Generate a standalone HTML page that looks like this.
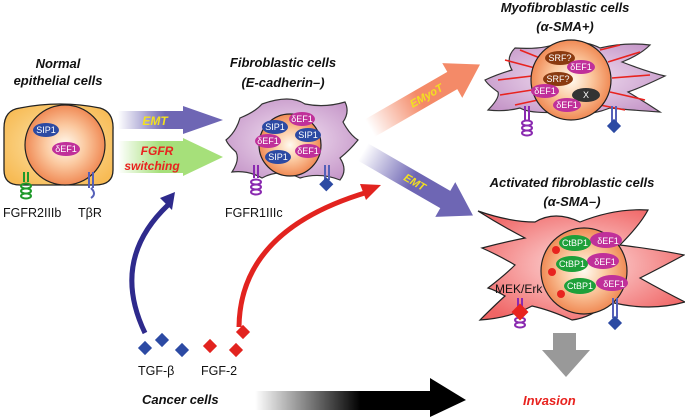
<!DOCTYPE html>
<html><head><meta charset="utf-8"><style>
html,body{margin:0;padding:0;background:#fff;}
svg{display:block;}
text{font-family:"Liberation Sans",sans-serif;}
.t{font-weight:bold;font-style:italic;font-size:13px;fill:#111;text-anchor:middle;}
.s{font-size:9px;fill:#fff;text-anchor:middle;}
.l{font-size:12.5px;fill:#111;}
</style></head><body>
<svg width="685" height="417" viewBox="0 0 685 417" xmlns="http://www.w3.org/2000/svg">
<defs>
<radialGradient id="nuc" cx="0.5" cy="0.5" r="0.5"><stop offset="0" stop-color="#fffaf0"/><stop offset="0.5" stop-color="#fbc9a0"/><stop offset="1" stop-color="#f08a55"/></radialGradient>
<radialGradient id="epi" cx="0.5" cy="0.5" r="0.6"><stop offset="0" stop-color="#fde7b0"/><stop offset="1" stop-color="#f7bb55"/></radialGradient>
<radialGradient id="pur" cx="0.5" cy="0.5" r="0.6"><stop offset="0" stop-color="#f3e3f3"/><stop offset="1" stop-color="#c596c8"/></radialGradient>
<radialGradient id="red" cx="0.5" cy="0.5" r="0.6"><stop offset="0" stop-color="#fde0e0"/><stop offset="1" stop-color="#f06565"/></radialGradient>
<linearGradient id="gP" x1="0" x2="1"><stop offset="0" stop-color="#fff"/><stop offset="0.45" stop-color="#6e66b4"/></linearGradient>
<linearGradient id="gG" x1="0" x2="1"><stop offset="0" stop-color="#fff"/><stop offset="0.4" stop-color="#a6e07a"/></linearGradient>
<linearGradient id="gO" x1="0" x2="1"><stop offset="0" stop-color="#fff"/><stop offset="0.45" stop-color="#f48a68"/></linearGradient>
<linearGradient id="gK" x1="0" x2="1"><stop offset="0" stop-color="#fff"/><stop offset="0.5" stop-color="#000"/></linearGradient>
</defs>

<text class="t" x="58" y="68">Normal</text>
<text class="t" x="58" y="85">epithelial cells</text>
<text class="t" x="283" y="67">Fibroblastic cells</text>
<text class="t" x="283" y="87">(E-cadherin–)</text>
<text class="t" x="565" y="12">Myofibroblastic cells</text>
<text class="t" x="565" y="31">(α-SMA+)</text>
<text class="t" x="572" y="187">Activated fibroblastic cells</text>
<text class="t" x="572" y="206">(α-SMA–)</text>

<path d="M20,108 Q60,100 100,108 Q114,112 113,130 L113,170 Q113,185 95,185 L20,185 Q4,185 4,170 L4,128 Q4,110 20,108Z" fill="url(#epi)" stroke="#222" stroke-width="1.3"/>
<circle cx="65" cy="145" r="40" fill="url(#nuc)" stroke="#222" stroke-width="1.2"/>
<ellipse cx="46" cy="130" rx="13" ry="7" fill="#2c4aa3"/><text class="s" x="46" y="133">SIP1</text>
<ellipse cx="66" cy="149" rx="14" ry="7" fill="#c0309a"/><text class="s" x="66" y="152">δEF1</text>
<g stroke="#1f9a2a" stroke-width="2" fill="none"><line x1="24" y1="172" x2="24" y2="182"/><line x1="28" y1="172" x2="28" y2="182"/><ellipse cx="26" cy="186" rx="5" ry="2.5"/><ellipse cx="26" cy="191" rx="5" ry="2.5"/><ellipse cx="26" cy="196" rx="5" ry="2.5"/></g>
<g stroke="#5560b8" stroke-width="2" fill="none"><line x1="89" y1="172" x2="89" y2="188"/><line x1="93" y1="172" x2="93" y2="188"/><path d="M91,188 q6,6 0,10"/></g>
<text class="l" x="3" y="217">FGFR2IIIb</text>
<text class="l" x="78" y="217">TβR</text>

<polygon points="118,111 183,111 183,106 223,120 183,134 183,129 118,129" fill="url(#gP)"/>
<text x="155" y="125" font-size="12" font-weight="bold" font-style="italic" fill="#f2e020" text-anchor="middle">EMT</text>
<polygon points="118,141 183,141 183,138 223,157 183,176 183,173 118,173" fill="url(#gG)"/>
<text x="157" y="155" font-size="12" font-weight="bold" font-style="italic" fill="#e8231f" text-anchor="middle">FGFR</text>
<text x="152" y="170" font-size="12" font-weight="bold" font-style="italic" fill="#e8231f" text-anchor="middle">switching</text>

<path d="M240,118 Q255,112 262,104 Q290,94 305,104 Q325,108 345,102 Q350,112 343,122 Q350,135 358,140 Q350,150 340,158 Q348,170 340,180 Q320,172 300,178 Q280,168 262,178 Q248,170 232,172 Q240,160 236,152 Q228,145 226,140 Q236,132 240,118Z" fill="url(#pur)" stroke="#333" stroke-width="1.2"/>
<circle cx="290" cy="145" r="31" fill="url(#nuc)" stroke="#222" stroke-width="1.2"/>
<ellipse cx="275" cy="127" rx="13" ry="7" fill="#2c4aa3"/><text class="s" x="275" y="130">SIP1</text>
<ellipse cx="308" cy="135" rx="13" ry="7" fill="#2c4aa3"/><text class="s" x="308" y="138">SIP1</text>
<ellipse cx="278" cy="157" rx="13" ry="7" fill="#2c4aa3"/><text class="s" x="278" y="160">SIP1</text>
<ellipse cx="302" cy="119" rx="13" ry="7" fill="#c0309a"/><text class="s" x="302" y="122">δEF1</text>
<ellipse cx="268" cy="141" rx="13" ry="7" fill="#c0309a"/><text class="s" x="268" y="144">δEF1</text>
<ellipse cx="308" cy="151" rx="13" ry="7" fill="#c0309a"/><text class="s" x="308" y="154">δEF1</text>
<g stroke="#8a2ab0" stroke-width="2" fill="none"><line x1="254" y1="165" x2="254" y2="178"/><line x1="258" y1="165" x2="258" y2="178"/><ellipse cx="256" cy="182" rx="5" ry="2.5"/><ellipse cx="256" cy="187" rx="5" ry="2.5"/><ellipse cx="256" cy="192" rx="5" ry="2.5"/></g>
<g stroke="#5560b8" stroke-width="2"><line x1="325" y1="165" x2="325" y2="180"/><line x1="329" y1="165" x2="329" y2="180"/></g>
<rect x="321" y="180" width="10" height="10" transform="rotate(45 327 185)" fill="#2c4aa3"/>
<text class="l" x="225" y="217">FGFR1IIIc</text>

<g transform="translate(370,128) rotate(-30)">
<polygon points="0,-10 95,-10 95,-20 127,0 95,20 95,10 0,10" fill="url(#gO)"/>
<text x="65" y="4" font-size="11" font-weight="bold" font-style="italic" fill="#f2e020" text-anchor="middle">EMyoT</text>
</g>
<g transform="translate(363,152) rotate(30)">
<polygon points="0,-10 95,-10 95,-20 127,0 95,20 95,10 0,10" fill="url(#gP)"/>
<text x="60" y="4" font-size="11" font-weight="bold" font-style="italic" fill="#f2e020" text-anchor="middle">EMT</text>
</g>

<path d="M515,48 Q545,50 560,42 Q585,40 600,48 Q625,42 650,45 Q640,55 622,62 Q648,72 665,76 Q640,88 628,92 Q645,102 660,112 Q630,110 610,108 Q585,118 560,112 Q530,114 520,108 Q505,112 488,110 Q500,98 498,92 Q488,85 485,80 Q498,74 512,70 Q505,58 515,48Z" fill="url(#pur)" stroke="#333" stroke-width="1.2"/>
<g stroke="#e8231f" stroke-width="1.6">
<line x1="505" y1="60" x2="535" y2="68"/><line x1="498" y1="80" x2="532" y2="76"/><line x1="500" y1="95" x2="532" y2="90"/><line x1="515" y1="105" x2="538" y2="100"/><line x1="520" y1="50" x2="540" y2="58"/>
<line x1="608" y1="62" x2="640" y2="52"/><line x1="612" y1="78" x2="650" y2="75"/><line x1="610" y1="92" x2="645" y2="100"/><line x1="600" y1="105" x2="625" y2="110"/><line x1="600" y1="50" x2="620" y2="45"/>
</g>
<circle cx="571" cy="80" r="40" fill="url(#nuc)" stroke="#222" stroke-width="1.2"/>
<ellipse cx="560" cy="58" rx="15" ry="7" fill="#8a3a10"/><text class="s" x="560" y="61">SRF?</text>
<ellipse cx="581" cy="67" rx="14" ry="7" fill="#c0309a"/><text class="s" x="581" y="70">δEF1</text>
<ellipse cx="558" cy="79" rx="15" ry="7" fill="#8a3a10"/><text class="s" x="558" y="82">SRF?</text>
<ellipse cx="545" cy="91" rx="14" ry="7" fill="#c0309a"/><text class="s" x="545" y="94">δEF1</text>
<ellipse cx="586" cy="95" rx="14" ry="7" fill="#333"/><text class="s" x="586" y="98">X</text>
<ellipse cx="567" cy="105" rx="14" ry="7" fill="#c0309a"/><text class="s" x="567" y="108">δEF1</text>
<g stroke="#8a2ab0" stroke-width="2" fill="none"><line x1="525" y1="106" x2="525" y2="120"/><line x1="529" y1="106" x2="529" y2="120"/><ellipse cx="527" cy="123" rx="5" ry="2.5"/><ellipse cx="527" cy="128" rx="5" ry="2.5"/><ellipse cx="527" cy="133" rx="5" ry="2.5"/></g>
<g stroke="#5560b8" stroke-width="2"><line x1="612" y1="106" x2="612" y2="122"/><line x1="616" y1="106" x2="616" y2="122"/></g>
<rect x="609" y="121" width="10" height="10" transform="rotate(45 614 126)" fill="#2c4aa3"/>

<path d="M478,211 Q510,222 535,222 Q555,210 580,222 Q615,208 648,210 Q640,225 620,245 Q660,250 684,255 Q660,268 640,278 Q665,292 685,302 Q650,312 610,302 Q590,318 572,320 Q550,310 532,306 Q510,318 480,320 Q495,305 505,296 Q495,290 488,288 Q505,275 515,265 Q498,255 482,248 Q505,242 525,238 Q500,225 478,211Z" fill="url(#red)" stroke="#222" stroke-width="1.2"/>
<circle cx="584" cy="271" r="43" fill="url(#nuc)" stroke="#222" stroke-width="1.2"/>
<ellipse cx="606" cy="240" rx="16" ry="8" fill="#c0309a"/><text class="s" x="608" y="244">δEF1</text>
<ellipse cx="575" cy="243" rx="16" ry="8" fill="#1ea03a"/><text class="s" x="575" y="246">CtBP1</text>
<circle cx="556" cy="250" r="4" fill="#e8231f"/>
<ellipse cx="603" cy="261" rx="16" ry="8" fill="#c0309a"/><text class="s" x="605" y="265">δEF1</text>
<ellipse cx="572" cy="264" rx="16" ry="8" fill="#1ea03a"/><text class="s" x="572" y="267">CtBP1</text>
<circle cx="552" cy="272" r="4" fill="#e8231f"/>
<ellipse cx="612" cy="283" rx="16" ry="8" fill="#c0309a"/><text class="s" x="614" y="287">δEF1</text>
<ellipse cx="580" cy="286" rx="16" ry="8" fill="#1ea03a"/><text class="s" x="580" y="289">CtBP1</text>
<circle cx="561" cy="294" r="4" fill="#e8231f"/>
<text x="495" y="293" font-size="12" fill="#111">MEK/Erk</text>
<g stroke="#8a2ab0" stroke-width="2" fill="none"><line x1="518" y1="298" x2="518" y2="318"/><line x1="522" y1="298" x2="522" y2="318"/><ellipse cx="520" cy="320" rx="5" ry="2.5"/><ellipse cx="520" cy="325" rx="5" ry="2.5"/></g>
<rect x="514" y="306" width="12" height="12" transform="rotate(45 520 312)" fill="#e8231f"/>
<g stroke="#5560b8" stroke-width="2"><line x1="613" y1="298" x2="613" y2="318"/><line x1="617" y1="298" x2="617" y2="318"/></g>
<rect x="610" y="318" width="10" height="10" transform="rotate(45 615 323)" fill="#2c4aa3"/>

<polygon points="553,333 576,333 576,350 590,350 566,377 542,350 553,350" fill="#999"/>

<path d="M145,333 Q110,260 168,205" fill="none" stroke="#2e2a8c" stroke-width="5"/>
<polygon points="160,198 175,192 172,210" fill="#2e2a8c"/>
<path d="M239,327 Q240,230 368,192" fill="none" stroke="#e2231f" stroke-width="5"/>
<polygon points="360,184 381,185 366,200" fill="#e2231f"/>

<g fill="#2c4aa3">
<rect x="140" y="343" width="10" height="10" transform="rotate(45 145 348)"/>
<rect x="157" y="335" width="10" height="10" transform="rotate(45 162 340)"/>
<rect x="177" y="345" width="10" height="10" transform="rotate(45 182 350)"/>
</g>
<g fill="#e2231f">
<rect x="238" y="327" width="10" height="10" transform="rotate(45 243 332)"/>
<rect x="205" y="341" width="10" height="10" transform="rotate(45 210 346)"/>
<rect x="231" y="345" width="10" height="10" transform="rotate(45 236 350)"/>
</g>
<text class="l" x="138" y="375">TGF-β</text>
<text class="l" x="201" y="375">FGF-2</text>

<polygon points="255,391 430,391 430,378 466,400 430,417 430,410 255,410" fill="url(#gK)"/>
<text x="142" y="404" font-size="13" font-weight="bold" font-style="italic" fill="#111">Cancer cells</text>
<text x="523" y="405" font-size="13" font-weight="bold" font-style="italic" fill="#e8231f">Invasion</text>
</svg>
</body></html>
